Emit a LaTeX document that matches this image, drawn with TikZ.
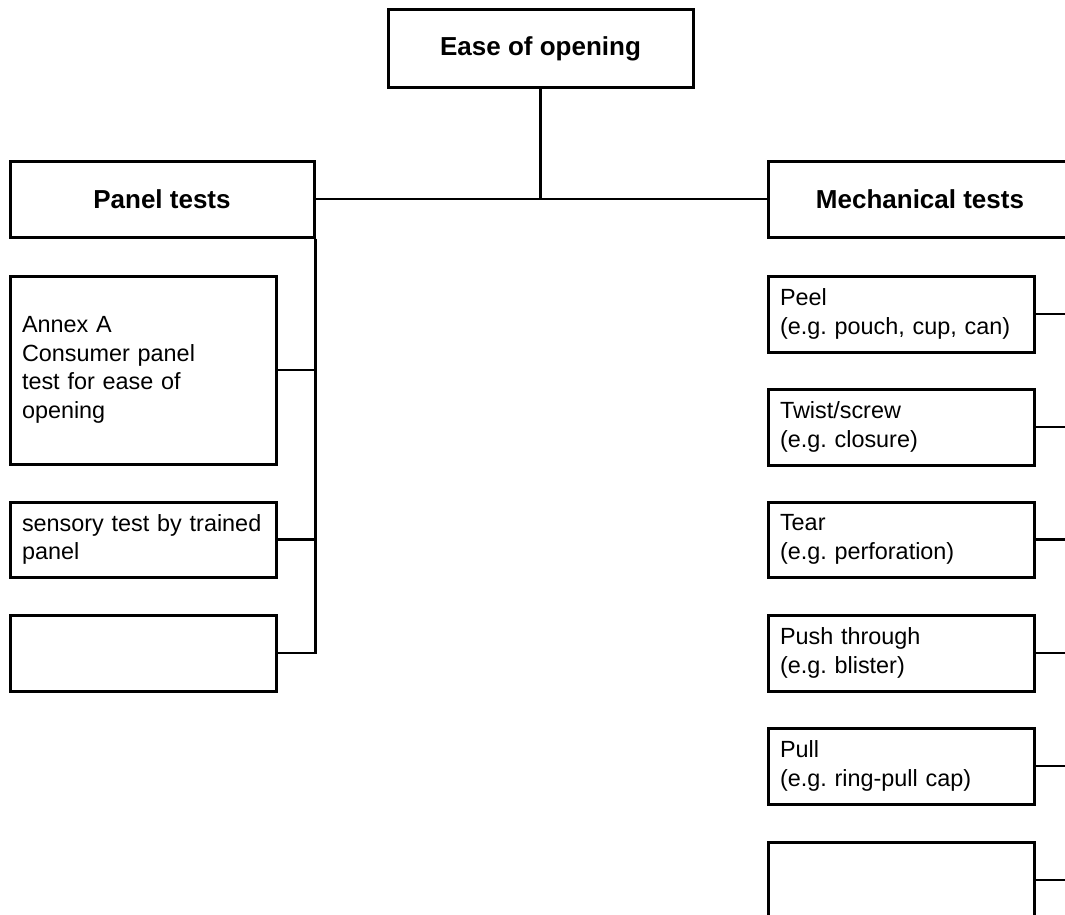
\documentclass[tikz,border=0pt]{standalone}
\usepackage{fontspec}
\setmainfont{Liberation Sans}
\frenchspacing
\begin{document}
\begin{tikzpicture}[x=1pt,y=-1pt,
  box/.style={draw, line width=3pt, rectangle, inner sep=0pt, inner xsep=12pt,
    align=left, text width=242pt, font=\fontsize{23.4}{28.7}\selectfont},
  head/.style={draw, line width=3pt, rectangle, inner sep=0pt,
    minimum width=304pt, minimum height=76pt, font=\bfseries\fontsize{26}{31}\selectfont},
  link/.style={line width=2.7pt}]
\useasboundingbox (0,0) rectangle (1065,915);
\clip (0,0) rectangle (1065,915);
% headings
\node[head, minimum width=305pt, minimum height=78pt] (top) at (540.5,49) {Ease of opening};
\node[head] (panel) at (162,199) {Panel tests};
\node[head] (mech) at (920,199) {Mechanical tests};
% left boxes
\node[box, minimum height=188pt] (annex) at (143,370) {Annex A\\Consumer panel\\test for ease of\\opening};
\node[box, minimum height=75pt] (sens) at (143,539.5) {sensory~test~by~trained\\panel};
\node[box, minimum height=76pt] (lempty) at (143,653) {};
% right boxes
\node[box, minimum height=76pt] (peel) at (901,314) {Peel\\(e.g.~pouch,~cup,~can)};
\node[box, minimum height=76pt] (twist) at (901,427) {Twist/screw\\(e.g. closure)};
\node[box, minimum height=75pt] (tear) at (901,539.5) {Tear\\(e.g. perforation)};
\node[box, minimum height=76pt] (push) at (901,653) {Push through\\(e.g. blister)};
\node[box, minimum height=76pt] (pull) at (901,766) {Pull\\(e.g. ring-pull cap)};
\node[box, minimum height=76pt] (rempty) at (901,880) {};
% connectors
\coordinate (j) at (top.south |- panel.east);
\draw[link] (top.south) -- (j);
\draw[link] (panel.east) -- (mech.west);
\draw[link] (panel.south east) -- (panel.south east |- lempty.east) -- (lempty.east);
\draw[link] (annex.east) -- (annex.east -| panel.east);
\draw[link] (sens.east) -- (sens.east -| panel.east);
\draw[link] (mech.south east) -- (mech.south east |- rempty.east) -- (rempty.east);
\foreach \n in {peel,twist,tear,push,pull}
  \draw[link] (\n.east) -- (\n.east -| mech.east);
\end{tikzpicture}
\end{document}
